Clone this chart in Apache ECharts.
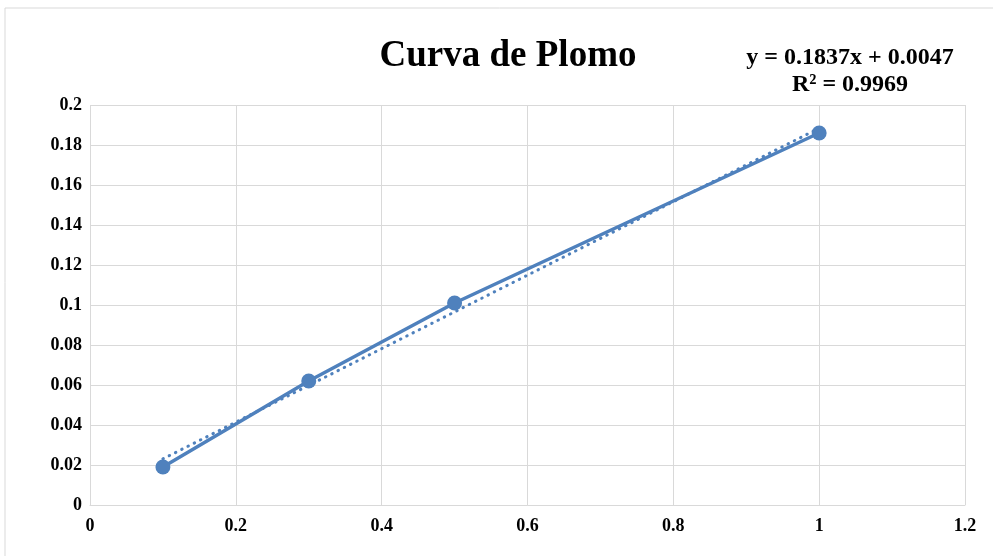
<!DOCTYPE html>
<html><head><meta charset="utf-8">
<script src="https://cdn.jsdelivr.net/npm/echarts@6/dist/echarts.min.js"></script>
<style>html,body{margin:0;padding:0;background:#fff}#c{width:993px;height:556px}</style>
</head><body><div id="c"></div>
<script>
const xValues = [0.1, 0.3, 0.5, 1.0];
const yValues = [0.019, 0.062, 0.101, 0.186];
const slope = 0.1837, intercept = 0.0047;
const trendX = [0.1, 1.0];
const xTicks = [0, 0.2, 0.4, 0.6, 0.8, 1, 1.2];
const yTicks = [0, 0.02, 0.04, 0.06, 0.08, 0.1, 0.12, 0.14, 0.16, 0.18, 0.2];
const color = '#4F81BD';
const font = 'Liberation Serif';
const chart = echarts.init(document.getElementById('c'));
chart.setOption({
  animation: false,
  graphic: [{type:'rect', shape:{x:5,y:8,width:1000,height:560}, style:{fill:'none', stroke:'#d9d9d9', lineWidth:1}, silent:true}],
  title: [
    {text:'Curva de Plomo', left:503, top:33, textAlign:'center', textStyle:{fontFamily:font, fontWeight:'bold', fontSize:37, color:'#000'}},
    {text:'y = 0.1837x + 0.0047\nR² = 0.9969', left:845, top:39, textAlign:'center', textStyle:{fontFamily:font, fontWeight:'bold', fontSize:24, lineHeight:27, color:'#000', align:'center'}}
  ],
  grid: {left:90, right:28, top:105, bottom:51},
  xAxis: {type:'value', min:0, max:1.2, interval:0.2,
    axisLine:{show:true, lineStyle:{color:'#d9d9d9', width:1}}, axisTick:{show:false},
    splitLine:{show:true, lineStyle:{color:'#d9d9d9', width:1}},
    axisLabel:{fontFamily:font, fontWeight:'bold', fontSize:18, color:'#000', margin:12, formatter:v=>String(+v.toFixed(2))}},
  yAxis: {type:'value', min:0, max:0.2, interval:0.02,
    axisLine:{show:false}, axisTick:{show:false},
    splitLine:{show:true, lineStyle:{color:'#d9d9d9', width:1}},
    axisLabel:{fontFamily:font, fontWeight:'bold', fontSize:18, color:'#000', margin:8, formatter:v=>String(+v.toFixed(2))}},
  series: [
    {type:'line', data: trendX.map(x=>[x, slope*x+intercept]), symbol:'none',
     lineStyle:{color:color, width:3, type:[0.5, 6.5], cap:'round'}, z:2},
    {type:'line', data: xValues.map((x,i)=>[x, yValues[i]]), symbol:'circle', symbolSize:15,
     itemStyle:{color:color}, lineStyle:{color:color, width:3.5}, z:3}
  ]
});
</script></body></html>
